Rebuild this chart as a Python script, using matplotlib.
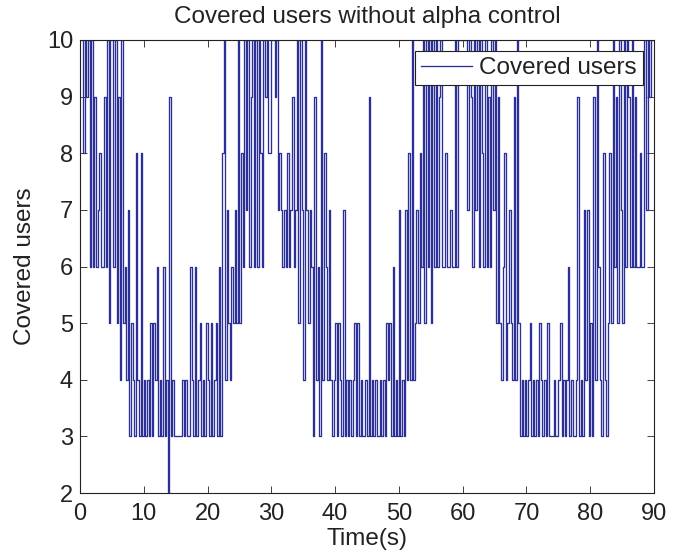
import matplotlib

matplotlib.use("Agg")
import matplotlib.pyplot as plt
import numpy as np

covered_users = [
    10, 10, 8, 10, 9, 10, 6, 10, 6, 9, 6, 7, 8, 6, 6, 9, 6, 10, 5, 10,
    10, 6, 10, 5, 9, 4, 10, 5, 6, 4, 7, 3, 5, 4, 3, 8, 4, 3, 8, 3,
    4, 3, 4, 3, 5, 3, 5, 4, 6, 3, 4, 3, 6, 3, 4, 2, 9, 3, 4, 3,
    3, 3, 3, 3, 4, 3, 4, 3, 3, 6, 4, 3, 6, 3, 4, 5, 3, 4, 3, 5,
    4, 3, 5, 3, 4, 5, 3, 6, 3, 8, 10, 4, 7, 5, 4, 6, 5, 7, 5, 10,
    5, 8, 6, 10, 7, 10, 6, 9, 10, 6, 10, 6, 10, 8, 6, 10, 9, 10, 8, 8,
    10, 10, 9, 10, 7, 8, 7, 6, 7, 6, 8, 6, 7, 9, 6, 7, 10, 5, 10, 7,
    4, 10, 7, 5, 7, 6, 3, 9, 4, 6, 3, 10, 4, 8, 6, 4, 7, 4, 3, 4,
    5, 3, 5, 4, 3, 7, 3, 4, 3, 4, 3, 4, 5, 3, 5, 3, 4, 3, 3, 4,
    3, 9, 3, 4, 3, 4, 3, 3, 4, 3, 4, 3, 5, 4, 5, 3, 6, 3, 4, 3,
    7, 3, 4, 3, 7, 4, 8, 4, 10, 4, 5, 7, 5, 8, 6, 10, 5, 10, 6, 10,
    5, 10, 6, 10, 6, 9, 10, 6, 6, 8, 6, 6, 7, 6, 6, 10, 6, 10, 10, 10,
    10, 10, 10, 7, 10, 9, 6, 10, 7, 10, 6, 10, 8, 6, 10, 6, 9, 6, 10, 7,
    10, 5, 9, 5, 4, 6, 8, 4, 5, 7, 5, 4, 9, 4, 10, 5, 3, 4, 3, 4,
    3, 4, 5, 3, 4, 3, 4, 3, 5, 4, 3, 4, 3, 5, 3, 3, 3, 4, 3, 3,
    4, 5, 3, 4, 3, 4, 6, 3, 4, 3, 3, 4, 9, 3, 4, 3, 7, 4, 7, 3,
    5, 3, 9, 4, 10, 6, 4, 3, 8, 4, 3, 5, 8, 5, 10, 6, 9, 5, 10, 7,
    5, 10, 6, 10, 9, 6, 10, 6, 9, 6, 6, 8, 6, 6, 10, 7, 10, 9, 10, 10,
    10,
]
time_s = np.arange(len(covered_users)) * 0.25

x_ticks = [0, 10, 20, 30, 40, 50, 60, 70, 80, 90]
y_ticks = [2, 3, 4, 5, 6, 7, 8, 9, 10]

plt.rcParams["font.family"] = ["Liberation Sans", "DejaVu Sans"]
TXT = "#222222"

W, H = 689, 557
fig = plt.figure(figsize=(W / 100, H / 100), dpi=100)
ax = fig.add_axes([80 / W, 1 - 493 / H, 574 / W, 453 / H])

# vertical jumps like the dense MATLAB trace
ax.plot(time_s, covered_users, color="#2b2f96", linewidth=0.95,
        drawstyle="steps-post", label="Covered users")

ax.set_xlim(0, 90)
ax.set_ylim(2, 10)
ax.set_xticks(x_ticks)
ax.set_yticks(y_ticks)
ax.tick_params(direction="in", length=5, width=0.6, labelsize=17,
               top=True, right=True, colors=TXT)
ax.tick_params(axis="x", pad=7)
ax.tick_params(axis="y", pad=5)
for s in ax.spines.values():
    s.set_linewidth(0.8)
    s.set_color(TXT)

ax.set_title("Covered users without alpha control", fontsize=17.5, pad=12, color=TXT)
ax.set_xlabel("Time(s)", fontsize=17.5, labelpad=2, color=TXT)
ax.set_ylabel("Covered users", fontsize=17.5, labelpad=8, color=TXT)

leg = ax.legend(loc="upper right", fontsize=17.5, fancybox=False, framealpha=1,
                edgecolor=TXT, borderaxespad=0.45, handlelength=2.1,
                borderpad=0.25, handletextpad=0.3)
leg.get_frame().set_linewidth(0.8)
for t in leg.get_texts():
    t.set_color(TXT)

fig.savefig("out.png", dpi=100)
